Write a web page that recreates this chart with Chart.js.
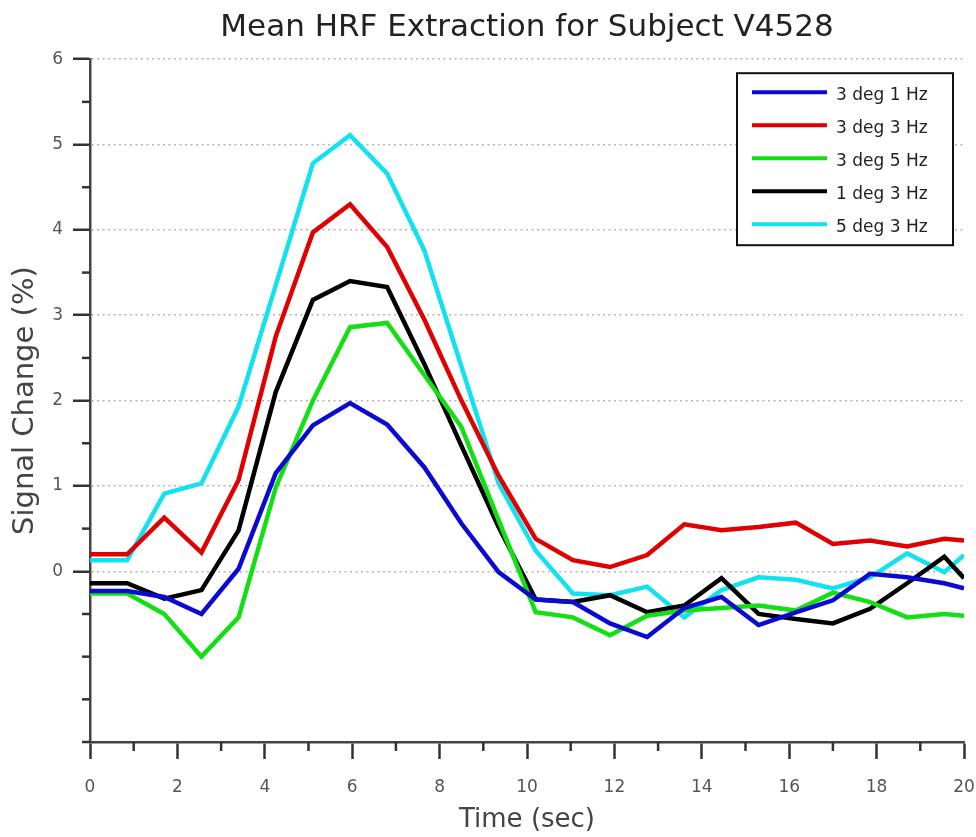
<!DOCTYPE html>
<html>
<head>
<meta charset="utf-8">
<script src="https://cdn.jsdelivr.net/npm/chart.js@4"></script>
<style>
  body { margin: 0; background: #fff; }
  #wrap { width: 976px; height: 837px; }
</style>
</head>
<body>
<div id="wrap"><canvas id="hrfChart"></canvas></div>
<script>
// time axis (sec), one sample every 0.85 s, last one at the axis edge
var timeSec = [0, 0.85, 1.7, 2.55, 3.4, 4.25, 5.1, 5.95, 6.8, 7.65, 8.5, 9.35, 10.2,
  11.05, 11.9, 12.75, 13.6, 14.45, 15.3, 16.15, 17.0, 17.85, 18.7, 19.55, 20];

var seriesLabels = ['3 deg 1 Hz', '3 deg 3 Hz', '3 deg 5 Hz', '1 deg 3 Hz', '5 deg 3 Hz'];

var deg3hz1 = [-0.23, -0.23, -0.30, -0.50, 0.03, 1.15, 1.71, 1.97, 1.72, 1.22, 0.56, -0.01, -0.33,
  -0.36, -0.61, -0.77, -0.43, -0.30, -0.63, -0.48, -0.34, -0.03, -0.07, -0.14, -0.20];
var deg3hz3 = [0.20, 0.20, 0.63, 0.22, 1.07, 2.75, 3.97, 4.30, 3.80, 2.95, 2.00, 1.12, 0.38,
  0.13, 0.05, 0.19, 0.55, 0.48, 0.52, 0.57, 0.32, 0.36, 0.29, 0.38, 0.36];
var deg3hz5 = [-0.26, -0.26, -0.50, -1.00, -0.54, 0.98, 2.00, 2.86, 2.91, 2.30, 1.69, 0.60, -0.48,
  -0.54, -0.75, -0.52, -0.46, -0.43, -0.40, -0.46, -0.25, -0.36, -0.54, -0.50, -0.52];
var deg1hz3 = [-0.14, -0.14, -0.32, -0.22, 0.48, 2.10, 3.18, 3.40, 3.33, 2.43, 1.47, 0.52, -0.33,
  -0.36, -0.28, -0.48, -0.40, -0.08, -0.50, -0.56, -0.61, -0.44, -0.14, 0.17, -0.08];
var deg5hz3 = [0.13, 0.13, 0.91, 1.03, 1.93, 3.35, 4.78, 5.11, 4.66, 3.76, 2.40, 1.03, 0.24,
  -0.26, -0.28, -0.18, -0.54, -0.22, -0.07, -0.10, -0.20, -0.07, 0.21, -0.01, 0.19];

var lineColors = ['#0a0ad2', '#e00000', '#12e012', '#000000', '#12e2f0'];

var yMin = -2, yMax = 6, xMin = 0, xMax = 20;

function toPoints(vals) {
  return vals.map(function (v, i) { return { x: timeSec[i], y: v }; });
}

var allSeries = [deg3hz1, deg3hz3, deg3hz5, deg1hz3, deg5hz3];

// short minor ticks + boxed legend in the upper right
var extrasPlugin = {
  id: 'extras',
  afterDraw: function (chart) {
    var ctx = chart.ctx;
    var xs = chart.scales.x, ys = chart.scales.y;
    var area = chart.chartArea;
    ctx.save();
    ctx.strokeStyle = '#333';
    ctx.lineWidth = 2.5;
    ys.ticks.forEach(function (t) {
      if (t.value >= 0 && Number.isInteger(t.value)) return;
      var py = ys.getPixelForValue(t.value);
      ctx.beginPath();
      ctx.moveTo(area.left - 8, py);
      ctx.lineTo(area.left, py);
      ctx.stroke();
    });
    xs.ticks.forEach(function (t) {
      if (t.value % 2 === 0) return;
      var px = xs.getPixelForValue(t.value);
      ctx.beginPath();
      ctx.moveTo(px, area.bottom);
      ctx.lineTo(px, area.bottom + 9);
      ctx.stroke();
    });

    // legend
    var boxL = area.right - 227, boxT = area.top + 14, boxW = 216, boxH = 172;
    ctx.fillStyle = '#fff';
    ctx.fillRect(boxL, boxT, boxW, boxH);
    ctx.strokeStyle = '#111';
    ctx.lineWidth = 2;
    ctx.strokeRect(boxL, boxT, boxW, boxH);
    ctx.font = '17px "DejaVu Sans"';
    ctx.textBaseline = 'middle';
    ctx.textAlign = 'left';
    chart.data.datasets.forEach(function (ds, i) {
      var ly = boxT + 19 + i * 33;
      ctx.strokeStyle = ds.borderColor;
      ctx.lineWidth = 4;
      ctx.beginPath();
      ctx.moveTo(boxL + 15, ly);
      ctx.lineTo(boxL + 90, ly);
      ctx.stroke();
      ctx.fillStyle = '#222';
      ctx.fillText(ds.label, boxL + 99, ly + 3);
    });
    ctx.restore();
  }
};

const ctx = document.getElementById('hrfChart');
var chart = new Chart(ctx, {
  type: 'line',
  data: {
    datasets: allSeries.map(function (vals, i) {
      return {
        label: seriesLabels[i],
        data: toPoints(vals),
        borderColor: lineColors[i],
        backgroundColor: lineColors[i],
        borderWidth: 4.5,
        pointRadius: 0,
        tension: 0,
        clip: 0
      };
    })
  },
  options: {
    responsive: true,
    maintainAspectRatio: false,
    animation: false,
    layout: { padding: { left: 0, right: 12, top: 0, bottom: 0 } },
    plugins: {
      legend: { display: false },
      tooltip: { enabled: false },
      title: {
        display: true,
        fullSize: false,
        text: 'Mean HRF Extraction for Subject V4528',
        color: '#222',
        font: { family: 'DejaVu Sans', size: 31, weight: 'normal' },
        padding: { top: 9, bottom: 13 }
      }
    },
    scales: {
      x: {
        type: 'linear',
        min: xMin,
        max: xMax,
        afterFit: function (s) { s.height = 95; s.paddingRight = 0; s.paddingLeft = 0; },
        border: { display: true, color: '#444', width: 2.5 },
        grid: {
          drawOnChartArea: false,
          drawTicks: true,
          tickLength: 17,
          tickWidth: 2.5,
          tickColor: function (c) { return c.tick && c.tick.value % 2 === 0 ? '#333' : 'rgba(0,0,0,0)'; }
        },
        ticks: {
          stepSize: 1,
          autoSkip: false,
          maxRotation: 0,
          padding: 18,
          color: '#555',
          font: { family: 'DejaVu Sans', size: 17 },
          callback: function (v) { return v % 2 === 0 ? String(v) : ''; }
        },
        title: {
          display: true,
          text: 'Time (sec)',
          color: '#444',
          font: { family: 'DejaVu Sans', size: 26 },
          padding: { top: 0, bottom: 1 }
        }
      },
      y: {
        min: yMin,
        max: yMax,
        afterFit: function (s) { s.width = 90; s.paddingTop = 0; s.paddingBottom = 0; },
        border: { display: true, color: '#444', width: 2.5, dash: [2, 3.5] },
        grid: {
          drawOnChartArea: true,
          lineWidth: 1.5,
          color: function (c) {
            var v = c.tick ? c.tick.value : null;
            return (v !== null && v >= 0 && Number.isInteger(v)) ? '#b4b4b4' : 'rgba(0,0,0,0)';
          },
          tickLength: 17,
          tickWidth: 2.5,
          tickBorderDash: [],
          tickColor: function (c) {
            var v = c.tick ? c.tick.value : null;
            return (v !== null && v >= 0 && Number.isInteger(v)) ? '#333' : 'rgba(0,0,0,0)';
          }
        },
        ticks: {
          stepSize: 0.5,
          autoSkip: false,
          padding: 10,
          color: '#555',
          font: { family: 'DejaVu Sans', size: 17 },
          callback: function (v) { return (v >= 0 && Number.isInteger(v)) ? String(v) : ''; }
        },
        title: {
          display: true,
          text: 'Signal Change (%)',
          color: '#444',
          font: { family: 'DejaVu Sans', size: 29 },
          padding: { top: 8, bottom: 0 }
        }
      }
    }
  },
  plugins: [extrasPlugin]
});
</script>
</body>
</html>
